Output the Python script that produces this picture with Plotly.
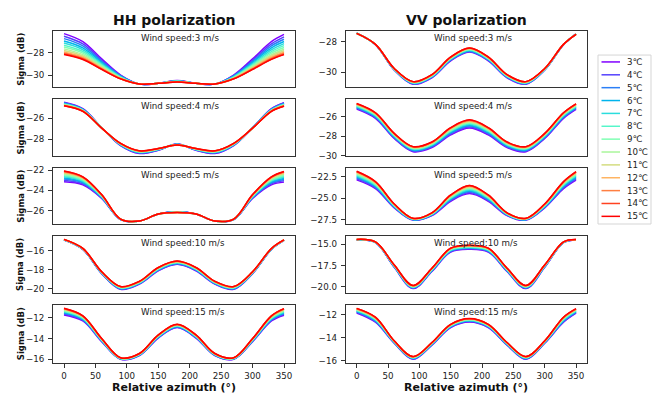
import math
import plotly.graph_objects as go

# ---------------- data ----------------
azimuth = [0, 30, 60, 90, 120, 150, 180, 210, 240, 270, 300, 330, 350]
temps = [3, 4, 5, 6, 7, 8, 9, 10, 11, 12, 13, 14, 15]
temp_labels = [f"{t}℃" for t in temps]
wind_speeds = [3, 4, 5, 10, 15]

hh_3 = [
    [-26.28, -27.00, -28.55, -30.00, -30.82, -30.75, -30.50, -30.75, -30.82, -30.00, -28.55, -27.00, -26.35],
    [-26.51, -27.20, -28.67, -30.04, -30.82, -30.75, -30.52, -30.75, -30.82, -30.04, -28.67, -27.20, -26.57],
    [-26.73, -27.38, -28.78, -30.08, -30.82, -30.75, -30.53, -30.75, -30.82, -30.08, -28.78, -27.38, -26.79],
    [-26.94, -27.56, -28.88, -30.12, -30.81, -30.75, -30.54, -30.75, -30.81, -30.12, -28.88, -27.56, -26.99],
    [-27.13, -27.73, -28.98, -30.16, -30.81, -30.75, -30.55, -30.75, -30.81, -30.16, -28.98, -27.73, -27.18],
    [-27.32, -27.89, -29.08, -30.19, -30.81, -30.75, -30.57, -30.75, -30.81, -30.19, -29.08, -27.89, -27.36],
    [-27.49, -28.03, -29.16, -30.23, -30.81, -30.75, -30.58, -30.75, -30.81, -30.23, -29.16, -28.03, -27.53],
    [-27.65, -28.17, -29.24, -30.26, -30.81, -30.75, -30.59, -30.75, -30.81, -30.26, -29.24, -28.17, -27.68],
    [-27.79, -28.29, -29.32, -30.28, -30.81, -30.75, -30.60, -30.75, -30.81, -30.28, -29.32, -28.29, -27.82],
    [-27.92, -28.40, -29.38, -30.31, -30.80, -30.75, -30.61, -30.75, -30.80, -30.31, -29.38, -28.40, -27.94],
    [-28.02, -28.49, -29.44, -30.33, -30.80, -30.75, -30.61, -30.75, -30.80, -30.33, -29.44, -28.49, -28.05],
    [-28.11, -28.56, -29.48, -30.34, -30.80, -30.75, -30.62, -30.75, -30.80, -30.34, -29.48, -28.56, -28.13],
    [-28.15, -28.60, -29.50, -30.35, -30.80, -30.75, -30.62, -30.75, -30.80, -30.35, -29.50, -28.60, -28.17],
]
hh_4 = [
    [-24.48, -25.10, -26.90, -28.60, -29.35, -29.05, -28.45, -29.05, -29.35, -28.60, -26.90, -25.10, -24.52],
    [-24.52, -25.13, -26.91, -28.58, -29.32, -29.03, -28.46, -29.03, -29.32, -28.58, -26.91, -25.13, -24.56],
    [-24.56, -25.16, -26.91, -28.55, -29.29, -29.01, -28.47, -29.01, -29.29, -28.55, -26.91, -25.16, -24.60],
    [-24.60, -25.19, -26.92, -28.53, -29.26, -28.99, -28.49, -28.99, -29.26, -28.53, -26.92, -25.19, -24.64],
    [-24.64, -25.21, -26.92, -28.51, -29.24, -28.97, -28.50, -28.97, -29.24, -28.51, -26.92, -25.21, -24.68],
    [-24.67, -25.24, -26.93, -28.49, -29.21, -28.96, -28.51, -28.96, -29.21, -28.49, -26.93, -25.24, -24.71],
    [-24.70, -25.26, -26.93, -28.47, -29.19, -28.94, -28.51, -28.94, -29.19, -28.47, -26.93, -25.26, -24.74],
    [-24.73, -25.28, -26.94, -28.45, -29.17, -28.93, -28.52, -28.93, -29.17, -28.45, -26.94, -25.28, -24.77],
    [-24.75, -25.30, -26.94, -28.44, -29.15, -28.91, -28.53, -28.91, -29.15, -28.44, -26.94, -25.30, -24.79],
    [-24.78, -25.32, -26.94, -28.43, -29.13, -28.90, -28.54, -28.90, -29.13, -28.43, -26.94, -25.32, -24.82],
    [-24.80, -25.33, -26.95, -28.41, -29.12, -28.89, -28.54, -28.89, -29.12, -28.41, -26.95, -25.33, -24.84],
    [-24.81, -25.34, -26.95, -28.40, -29.11, -28.88, -28.55, -28.88, -29.11, -28.40, -26.95, -25.34, -24.85],
    [-24.82, -25.35, -26.95, -28.40, -29.10, -28.88, -28.55, -28.88, -29.10, -28.40, -26.95, -25.35, -24.86],
]
hh_5 = [
    [-23.14, -23.45, -24.80, -26.90, -27.05, -26.35, -26.12, -26.35, -27.05, -26.90, -24.80, -23.45, -23.18],
    [-23.01, -23.35, -24.75, -26.89, -27.05, -26.35, -26.13, -26.35, -27.05, -26.89, -24.75, -23.35, -23.05],
    [-22.88, -23.26, -24.71, -26.89, -27.05, -26.35, -26.14, -26.35, -27.05, -26.89, -24.71, -23.26, -22.93],
    [-22.77, -23.17, -24.67, -26.88, -27.05, -26.35, -26.15, -26.35, -27.05, -26.88, -24.67, -23.17, -22.81],
    [-22.65, -23.09, -24.63, -26.88, -27.05, -26.35, -26.16, -26.35, -27.05, -26.88, -24.63, -23.09, -22.70],
    [-22.55, -23.01, -24.59, -26.87, -27.05, -26.35, -26.16, -26.35, -27.05, -26.87, -24.59, -23.01, -22.59],
    [-22.45, -22.93, -24.55, -26.87, -27.05, -26.35, -26.17, -26.35, -27.05, -26.87, -24.55, -22.93, -22.50],
    [-22.36, -22.87, -24.52, -26.86, -27.05, -26.35, -26.18, -26.35, -27.05, -26.86, -24.52, -22.87, -22.41],
    [-22.28, -22.80, -24.49, -26.86, -27.05, -26.35, -26.18, -26.35, -27.05, -26.86, -24.49, -22.80, -22.32],
    [-22.20, -22.75, -24.47, -26.86, -27.05, -26.35, -26.19, -26.35, -27.05, -26.86, -24.47, -22.75, -22.25],
    [-22.14, -22.70, -24.45, -26.85, -27.05, -26.35, -26.19, -26.35, -27.05, -26.85, -24.45, -22.70, -22.19],
    [-22.10, -22.67, -24.43, -26.85, -27.05, -26.35, -26.20, -26.35, -27.05, -26.85, -24.43, -22.67, -22.15],
    [-22.07, -22.65, -24.42, -26.85, -27.05, -26.35, -26.20, -26.35, -27.05, -26.85, -24.42, -22.65, -22.12],
]
hh_10 = [
    [-14.86, -15.85, -18.40, -20.05, -19.50, -18.10, -17.42, -18.10, -19.50, -20.05, -18.40, -15.85, -14.90],
    [-14.85, -15.84, -18.38, -20.01, -19.46, -18.06, -17.38, -18.06, -19.46, -20.01, -18.38, -15.84, -14.89],
    [-14.85, -15.83, -18.35, -19.98, -19.43, -18.02, -17.34, -18.02, -19.43, -19.98, -18.35, -15.83, -14.89],
    [-14.84, -15.82, -18.33, -19.95, -19.40, -17.98, -17.30, -17.98, -19.40, -19.95, -18.33, -15.82, -14.88],
    [-14.83, -15.80, -18.31, -19.91, -19.36, -17.94, -17.26, -17.94, -19.36, -19.91, -18.31, -15.80, -14.88],
    [-14.83, -15.79, -18.29, -19.88, -19.33, -17.91, -17.23, -17.91, -19.33, -19.88, -18.29, -15.79, -14.87],
    [-14.82, -15.79, -18.27, -19.86, -19.31, -17.87, -17.19, -17.87, -19.31, -19.86, -18.27, -15.79, -14.87],
    [-14.82, -15.78, -18.25, -19.83, -19.28, -17.84, -17.16, -17.84, -19.28, -19.83, -18.25, -15.78, -14.86],
    [-14.81, -15.77, -18.24, -19.81, -19.26, -17.82, -17.14, -17.82, -19.26, -19.81, -18.24, -15.77, -14.86],
    [-14.81, -15.76, -18.23, -19.79, -19.24, -17.79, -17.11, -17.79, -19.24, -19.79, -18.23, -15.76, -14.86],
    [-14.80, -15.76, -18.21, -19.77, -19.22, -17.77, -17.09, -17.77, -19.22, -19.77, -18.21, -15.76, -14.85],
    [-14.80, -15.75, -18.20, -19.76, -19.21, -17.76, -17.08, -17.76, -19.21, -19.76, -18.20, -15.75, -14.85],
    [-14.80, -15.75, -18.20, -19.75, -19.20, -17.75, -17.07, -17.75, -19.20, -19.75, -18.20, -15.75, -14.85],
]
hh_15 = [
    [-11.71, -12.30, -14.30, -16.00, -15.65, -13.95, -12.94, -13.95, -15.65, -16.00, -14.30, -12.30, -11.74],
    [-11.63, -12.24, -14.26, -15.98, -15.63, -13.91, -12.90, -13.91, -15.63, -15.98, -14.26, -12.24, -11.66],
    [-11.56, -12.18, -14.23, -15.96, -15.60, -13.88, -12.86, -13.88, -15.60, -15.96, -14.23, -12.18, -11.59],
    [-11.49, -12.13, -14.20, -15.95, -15.58, -13.85, -12.83, -13.85, -15.58, -15.95, -14.20, -12.13, -11.52],
    [-11.42, -12.07, -14.16, -15.93, -15.56, -13.81, -12.79, -13.81, -15.56, -15.93, -14.16, -12.07, -11.45],
    [-11.36, -12.02, -14.13, -15.92, -15.54, -13.78, -12.76, -13.78, -15.54, -15.92, -14.13, -12.02, -11.39],
    [-11.30, -11.98, -14.11, -15.90, -15.52, -13.76, -12.73, -13.76, -15.52, -15.90, -14.11, -11.98, -11.33],
    [-11.24, -11.93, -14.08, -15.89, -15.50, -13.73, -12.71, -13.73, -15.50, -15.89, -14.08, -11.93, -11.27],
    [-11.19, -11.90, -14.06, -15.88, -15.49, -13.71, -12.68, -13.71, -15.49, -15.88, -14.06, -11.90, -11.22],
    [-11.15, -11.86, -14.04, -15.87, -15.48, -13.69, -12.66, -13.69, -15.48, -15.87, -14.04, -11.86, -11.18],
    [-11.11, -11.83, -14.02, -15.86, -15.46, -13.67, -12.64, -13.67, -15.46, -15.86, -14.02, -11.83, -11.14],
    [-11.09, -11.81, -14.01, -15.85, -15.45, -13.66, -12.63, -13.66, -15.45, -15.85, -14.01, -11.81, -11.12],
    [-11.07, -11.80, -14.00, -15.85, -15.45, -13.65, -12.62, -13.65, -15.45, -15.85, -14.00, -11.80, -11.10],
]

vv_3 = [
    [-27.45, -28.20, -29.85, -30.77, -30.35, -29.25, -28.68, -29.25, -30.35, -30.77, -29.85, -28.20, -27.50],
    [-27.45, -28.20, -29.84, -30.75, -30.33, -29.22, -28.65, -29.22, -30.33, -30.75, -29.84, -28.20, -27.50],
    [-27.45, -28.20, -29.83, -30.73, -30.30, -29.19, -28.62, -29.19, -30.30, -30.73, -29.83, -28.20, -27.51],
    [-27.46, -28.19, -29.82, -30.71, -30.28, -29.16, -28.59, -29.16, -30.28, -30.71, -29.82, -28.19, -27.51],
    [-27.46, -28.19, -29.80, -30.69, -30.26, -29.14, -28.56, -29.14, -30.26, -30.69, -29.80, -28.19, -27.51],
    [-27.46, -28.19, -29.79, -30.68, -30.24, -29.11, -28.53, -29.11, -30.24, -30.68, -29.79, -28.19, -27.52],
    [-27.46, -28.19, -29.79, -30.66, -30.22, -29.09, -28.51, -29.09, -30.22, -30.66, -29.79, -28.19, -27.52],
    [-27.46, -28.19, -29.78, -30.65, -30.20, -29.07, -28.48, -29.07, -30.20, -30.65, -29.78, -28.19, -27.52],
    [-27.47, -28.18, -29.77, -30.63, -30.19, -29.05, -28.46, -29.05, -30.19, -30.63, -29.77, -28.18, -27.52],
    [-27.47, -28.18, -29.76, -30.62, -30.18, -29.03, -28.44, -29.03, -30.18, -30.62, -29.76, -28.18, -27.53],
    [-27.47, -28.18, -29.76, -30.61, -30.16, -29.02, -28.43, -29.02, -30.16, -30.61, -29.76, -28.18, -27.53],
    [-27.47, -28.18, -29.75, -30.60, -30.15, -29.01, -28.42, -29.01, -30.15, -30.60, -29.75, -28.18, -27.53],
    [-27.47, -28.18, -29.75, -30.60, -30.15, -29.00, -28.41, -29.00, -30.15, -30.60, -29.75, -28.18, -27.53],
]
vv_4 = [
    [-25.22, -26.17, -28.25, -29.60, -29.18, -27.88, -27.17, -27.88, -29.18, -29.60, -28.25, -26.17, -25.25],
    [-25.15, -26.10, -28.19, -29.54, -29.11, -27.79, -27.07, -27.79, -29.11, -29.54, -28.19, -26.10, -25.18],
    [-25.08, -26.03, -28.12, -29.48, -29.04, -27.70, -26.97, -27.70, -29.04, -29.48, -28.12, -26.03, -25.11],
    [-25.02, -25.97, -28.06, -29.42, -28.98, -27.62, -26.88, -27.62, -28.98, -29.42, -28.06, -25.97, -25.05],
    [-24.96, -25.91, -28.01, -29.36, -28.92, -27.54, -26.79, -27.54, -28.92, -29.36, -28.01, -25.91, -24.99],
    [-24.90, -25.85, -27.96, -29.31, -28.86, -27.46, -26.71, -27.46, -28.86, -29.31, -27.96, -25.85, -24.93],
    [-24.85, -25.80, -27.91, -29.26, -28.81, -27.40, -26.63, -27.40, -28.81, -29.26, -27.91, -25.80, -24.88],
    [-24.80, -25.75, -27.86, -29.22, -28.76, -27.33, -26.56, -27.33, -28.76, -29.22, -27.86, -25.75, -24.83],
    [-24.76, -25.71, -27.82, -29.18, -28.72, -27.27, -26.49, -27.27, -28.72, -29.18, -27.82, -25.71, -24.79],
    [-24.72, -25.67, -27.79, -29.15, -28.68, -27.22, -26.44, -27.22, -28.68, -29.15, -27.79, -25.67, -24.75],
    [-24.69, -25.64, -27.76, -29.12, -28.65, -27.18, -26.39, -27.18, -28.65, -29.12, -27.76, -25.64, -24.72],
    [-24.66, -25.61, -27.73, -29.09, -28.62, -27.15, -26.35, -27.15, -28.62, -29.09, -27.73, -25.61, -24.69],
    [-24.65, -25.60, -27.72, -29.08, -28.61, -27.13, -26.33, -27.13, -28.61, -29.08, -27.72, -25.60, -24.68],
]
vv_5 = [
    [-22.88, -23.90, -26.12, -27.54, -27.02, -25.36, -24.47, -25.36, -27.02, -27.54, -26.12, -23.90, -22.91],
    [-22.76, -23.80, -26.07, -27.51, -26.98, -25.27, -24.35, -25.27, -26.98, -27.51, -26.07, -23.80, -22.79],
    [-22.64, -23.70, -26.01, -27.49, -26.94, -25.19, -24.24, -25.19, -26.94, -27.49, -26.01, -23.70, -22.68],
    [-22.53, -23.61, -25.96, -27.47, -26.90, -25.10, -24.14, -25.10, -26.90, -27.47, -25.96, -23.61, -22.57],
    [-22.43, -23.53, -25.92, -27.44, -26.87, -25.03, -24.04, -25.03, -26.87, -27.44, -25.92, -23.53, -22.46],
    [-22.33, -23.45, -25.87, -27.42, -26.84, -24.96, -23.94, -24.96, -26.84, -27.42, -25.87, -23.45, -22.37],
    [-22.24, -23.37, -25.83, -27.40, -26.81, -24.89, -23.86, -24.89, -26.81, -27.40, -25.83, -23.37, -22.28],
    [-22.16, -23.30, -25.79, -27.39, -26.78, -24.83, -23.78, -24.83, -26.78, -27.39, -25.79, -23.30, -22.19],
    [-22.08, -23.24, -25.76, -27.37, -26.75, -24.77, -23.70, -24.77, -26.75, -27.37, -25.76, -23.24, -22.12],
    [-22.01, -23.18, -25.73, -27.36, -26.73, -24.72, -23.64, -24.72, -26.73, -27.36, -25.73, -23.18, -22.05],
    [-21.96, -23.14, -25.70, -27.34, -26.71, -24.68, -23.59, -24.68, -26.71, -27.34, -25.70, -23.14, -22.00],
    [-21.91, -23.10, -25.68, -27.34, -26.70, -24.65, -23.54, -24.65, -26.70, -27.34, -25.68, -23.10, -21.95],
    [-21.89, -23.08, -25.67, -27.33, -26.69, -24.63, -23.52, -24.63, -26.69, -27.33, -25.67, -23.08, -21.93],
]
vv_10 = [
    [-14.47, -14.80, -17.70, -20.20, -18.20, -15.90, -15.58, -15.90, -18.20, -20.20, -17.70, -14.80, -14.48],
    [-14.46, -14.79, -17.67, -20.16, -18.15, -15.85, -15.52, -15.85, -18.15, -20.16, -17.67, -14.79, -14.48],
    [-14.46, -14.78, -17.63, -20.11, -18.10, -15.79, -15.47, -15.79, -18.10, -20.11, -17.63, -14.78, -14.47],
    [-14.45, -14.77, -17.60, -20.07, -18.06, -15.74, -15.42, -15.74, -18.06, -20.07, -17.60, -14.77, -14.47],
    [-14.45, -14.76, -17.57, -20.04, -18.02, -15.70, -15.37, -15.70, -18.02, -20.04, -17.57, -14.76, -14.46],
    [-14.44, -14.76, -17.55, -20.00, -17.98, -15.65, -15.33, -15.65, -17.98, -20.00, -17.55, -14.76, -14.46],
    [-14.44, -14.75, -17.52, -19.97, -17.94, -15.61, -15.28, -15.61, -17.94, -19.97, -17.52, -14.75, -14.45],
    [-14.43, -14.74, -17.50, -19.94, -17.91, -15.57, -15.24, -15.57, -17.91, -19.94, -17.50, -14.74, -14.45],
    [-14.43, -14.74, -17.47, -19.91, -17.88, -15.54, -15.21, -15.54, -17.88, -19.91, -17.47, -14.74, -14.45],
    [-14.43, -14.73, -17.46, -19.89, -17.85, -15.51, -15.18, -15.51, -17.85, -19.89, -17.46, -14.73, -14.45],
    [-14.42, -14.73, -17.44, -19.86, -17.83, -15.48, -15.15, -15.48, -17.83, -19.86, -17.44, -14.73, -14.44],
    [-14.42, -14.72, -17.43, -19.85, -17.81, -15.46, -15.13, -15.46, -17.81, -19.85, -17.43, -14.72, -14.44],
    [-14.42, -14.72, -17.42, -19.84, -17.80, -15.45, -15.12, -15.45, -17.80, -19.84, -17.42, -14.72, -14.44],
]
vv_15 = [
    [-11.83, -12.64, -14.47, -15.87, -14.64, -13.10, -12.61, -13.10, -14.64, -15.87, -14.47, -12.64, -11.85],
    [-11.78, -12.59, -14.44, -15.84, -14.61, -13.07, -12.57, -13.07, -14.61, -15.84, -14.44, -12.59, -11.80],
    [-11.73, -12.54, -14.42, -15.81, -14.59, -13.03, -12.54, -13.03, -14.59, -15.81, -14.42, -12.54, -11.76],
    [-11.69, -12.49, -14.40, -15.79, -14.56, -13.00, -12.51, -13.00, -14.56, -15.79, -14.40, -12.49, -11.71],
    [-11.65, -12.44, -14.37, -15.76, -14.54, -12.97, -12.48, -12.97, -14.54, -15.76, -14.37, -12.44, -11.67],
    [-11.61, -12.40, -14.35, -15.74, -14.51, -12.95, -12.45, -12.95, -14.51, -15.74, -14.35, -12.40, -11.63],
    [-11.57, -12.36, -14.33, -15.72, -14.49, -12.92, -12.42, -12.92, -14.49, -15.72, -14.33, -12.36, -11.60],
    [-11.54, -12.32, -14.32, -15.70, -14.47, -12.90, -12.40, -12.90, -14.47, -15.70, -14.32, -12.32, -11.57],
    [-11.51, -12.28, -14.30, -15.68, -14.45, -12.87, -12.38, -12.87, -14.45, -15.68, -14.30, -12.28, -11.54],
    [-11.48, -12.26, -14.29, -15.66, -14.44, -12.86, -12.36, -12.86, -14.44, -15.66, -14.29, -12.26, -11.51],
    [-11.46, -12.23, -14.27, -15.65, -14.43, -12.84, -12.34, -12.84, -14.43, -15.65, -14.27, -12.23, -11.49],
    [-11.44, -12.21, -14.27, -15.64, -14.42, -12.83, -12.33, -12.83, -14.42, -15.64, -14.27, -12.21, -11.47],
    [-11.43, -12.20, -14.26, -15.63, -14.41, -12.82, -12.32, -12.82, -14.41, -15.63, -14.26, -12.20, -11.46],
]

HH = [hh_3, hh_4, hh_5, hh_10, hh_15]
VV = [vv_3, vv_4, vv_5, vv_10, vv_15]

hh_ranges = [[-31.12, -26.0], [-29.62, -24.2], [-27.34, -21.78], [-20.41, -14.42], [-16.32, -10.71]]
vv_ranges = [[-30.98, -27.28], [-30.07, -24.21], [-27.99, -21.51], [-20.69, -14.0], [-16.15, -11.1]]
hh_ticks = [[-30, -28], [-28, -26], [-26, -24, -22], [-20, -18, -16], [-16, -14, -12]]
vv_ticks = [[-30, -28], [-30, -28, -26], [-27.5, -25.0, -22.5], [-20.0, -17.5, -15.0], [-16, -14, -12]]
vv_tickfmt = ["d", "d", ".1f", ".1f", "d"]
x_ticks = [0, 50, 100, 150, 200, 250, 300, 350]

# ---------------- style ----------------
W, H = 661, 395
FONT = "DejaVu Sans"
col_px = [(53, 295), (345.7, 587)]
row_px = [(28, 86), (98, 156), (168, 225), (237, 295), (307, 366)]


def rainbow(x):
    r = min(1.0, abs(2 * x - 0.5))
    g = math.sin(math.pi * x)
    b = math.cos(math.pi * x / 2)
    return "rgb(%d,%d,%d)" % (round(r * 255), round(g * 255), round(b * 255))


colors = [rainbow(i / (len(temps) - 1)) for i in range(len(temps))]

fig = go.Figure()
layout = dict(
    width=W, height=H, margin=dict(l=0, r=0, t=0, b=0),
    paper_bgcolor="white", plot_bgcolor="white", showlegend=False,
    font=dict(family=FONT, size=8.7, color="#222"),
)
annotations = []
shapes = []

for c, (pol, ranges, ticks) in enumerate([(HH, hh_ranges, hh_ticks), (VV, vv_ranges, vv_ticks)]):
    for r in range(5):
        k = r * 2 + c + 1
        sfx = "" if k == 1 else str(k)
        xa = "x" + sfx
        ya = "y" + sfx
        for ti in range(len(temps)):
            fig.add_trace(go.Scatter(
                x=azimuth, y=pol[r][ti], mode="lines", xaxis=xa, yaxis=ya,
                line=dict(color=colors[ti], width=1.5, shape="spline", smoothing=1.0),
                name=temp_labels[ti], hoverinfo="skip", showlegend=False))
        x0, x1 = col_px[c]
        y0, y1 = row_px[r]
        bottom = (r == 4)
        layout["xaxis" + sfx] = dict(
            domain=[x0 / W, x1 / W], anchor=ya, range=[-17.5, 367.5],
            tickvals=x_ticks, showticklabels=bottom, ticks="outside" if bottom else "",
            ticklen=4, tickcolor="#333", ticklabelstandoff=1,
            showline=True, mirror=True, linecolor="#333",
            linewidth=1, showgrid=False, zeroline=False,
            tickfont=dict(family=FONT, size=8.7, color="#222"))
        fmt = "d" if c == 0 else vv_tickfmt[r]
        layout["yaxis" + sfx] = dict(
            domain=[1 - y1 / H, 1 - y0 / H], anchor=xa, range=ranges[r],
            tickvals=ticks[r], tickformat=fmt, ticks="outside", ticklen=4, tickcolor="#333",
            ticklabelstandoff=2,
            showline=True, mirror=True, linecolor="#333", linewidth=1,
            showgrid=False, zeroline=False,
            tickfont=dict(family=FONT, size=8.7, color="#222"))
        annotations.append(dict(
            text=f"Wind speed:{wind_speeds[r]} m/s", xref=xa, yref=ya + " domain",
            x=120, y=1, xanchor="left", yanchor="top", yshift=0, showarrow=False,
            font=dict(family=FONT, size=8.7, color="#222")))
        if c == 0:
            annotations.append(dict(
                text="<b>Sigma (dB)</b>", xref="paper", yref="paper",
                x=20.7 / W, y=1 - ((y0 + y1) / 2) / H, textangle=-90,
                xanchor="center", yanchor="middle", showarrow=False,
                font=dict(family=FONT, size=8.5, color="#111")))

for c, title in enumerate(["HH polarization", "VV polarization"]):
    cx = (col_px[c][0] + col_px[c][1]) / 2 / W
    annotations.append(dict(
        text=f"<b>{title}</b>", xref="paper", yref="paper", x=cx, y=1 - 17.5 / H,
        xanchor="center", yanchor="middle", showarrow=False,
        font=dict(family=FONT, size=14, color="#111")))
    annotations.append(dict(
        text="<b>Relative azimuth (°)</b>", xref="paper", yref="paper", x=cx, y=1 - 391 / H,
        xanchor="center", yanchor="middle", showarrow=False,
        font=dict(family=FONT, size=11, color="#111")))

# legend box drawn in paper space
lx0, lx1, ly0, ly1 = 598, 651, 53, 225
shapes.append(dict(type="rect", xref="paper", yref="paper",
                   x0=lx0 / W, x1=lx1 / W, y0=1 - ly1 / H, y1=1 - ly0 / H,
                   line=dict(color="#d5d5d5", width=1), fillcolor="white"))
for i, lab in enumerate(temp_labels):
    yy = 60 + 13.1 * i
    shapes.append(dict(type="line", xref="paper", yref="paper",
                       x0=601.5 / W, x1=620 / W, y0=1 - yy / H, y1=1 - yy / H,
                       line=dict(color=colors[i], width=1.5)))
    annotations.append(dict(
        text=lab, xref="paper", yref="paper", x=625 / W, y=1 - yy / H,
        xanchor="left", yanchor="middle", showarrow=False,
        font=dict(family=FONT, size=8.7, color="#222")))

layout["annotations"] = annotations
layout["shapes"] = shapes
fig.update_layout(**layout)
fig.write_html("out.html")
